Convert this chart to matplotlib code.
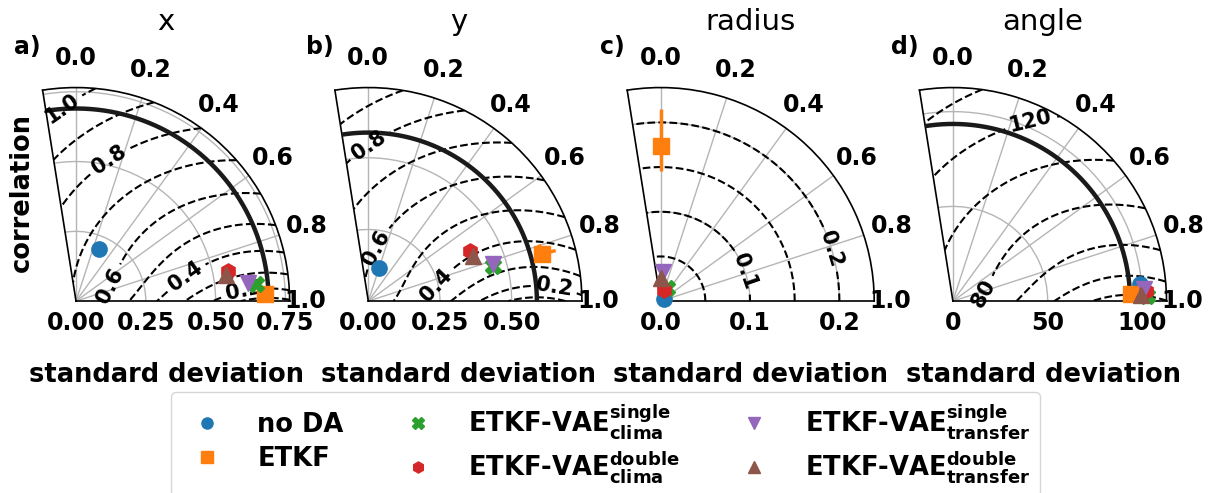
import numpy as np
import matplotlib.pyplot as plt
from matplotlib.lines import Line2D

plt.rcParams['font.family'] = ['DejaVu Sans']
plt.rcParams['font.weight'] = 'bold'

# panels
titles = ['x', 'y', 'radius', 'angle']
letters = ['a)', 'b)', 'c)', 'd)']

# experiments
names = ['no DA', 'ETKF',
         r'ETKF-VAE$^{\mathrm{single}}_{\mathrm{clima}}$',
         r'ETKF-VAE$^{\mathrm{double}}_{\mathrm{clima}}$',
         r'ETKF-VAE$^{\mathrm{single}}_{\mathrm{transfer}}$',
         r'ETKF-VAE$^{\mathrm{double}}_{\mathrm{transfer}}$']
markers = ['o', 's', 'X', 'h', 'v', '^']
colors = ['tab:blue', 'tab:orange', 'tab:green', 'tab:red', 'tab:purple', 'tab:brown']

# axes settings
corr_ticks = [0.0, 0.2, 0.4, 0.6, 0.8, 1.0]
corr_min = -0.1
r_ticks = [[0, 0.25, 0.5, 0.75], [0, 0.25, 0.5], [0, 0.1, 0.2], [0, 50, 100]]
ref_std = [0.69, 0.588, 0.0, 93.5]
std_max = [0.765, 0.745, 0.239, 112.7]
rms_levels = [[0.1, 0.2, 0.3, 0.4, 0.5, 0.6, 0.7, 0.8, 0.9, 1.0],
              [0.1, 0.2, 0.3, 0.4, 0.5, 0.6, 0.7, 0.8, 0.9],
              [0.05, 0.1, 0.15, 0.2],
              [20, 40, 60, 80, 100, 120, 140]]
rms_labelled = [[0.2, 0.4, 0.6, 0.8, 1.0], [0.2, 0.4, 0.6, 0.8], [0.1, 0.2], [80, 120]]
rms_fmt = ['%.1f', '%.1f', '%.1f', '%.0f']
# where the rms labels sit: (correlation, std)
rms_label_corr = [[0.954, 0.857, 0.681, 0.141, -0.043],
                  [0.956, 0.860, 0.070, 0.0],
                  [0.786, 0.811],
                  [0.863, 0.258]]
rms_label_std = [[0.600, 0.401, 0.127, 0.522, 0.690],
                 [0.649, 0.242, 0.191, 0.546],
                 [0.102, 0.205],
                 [17.4, 103.9]]

# std / correlation of each experiment, one row per panel
std = [[0.203, 0.679, 0.648, 0.554, 0.619, 0.547],
       [0.122, 0.627, 0.452, 0.394, 0.455, 0.398],
       [0.004, 0.174, 0.016, 0.013, 0.033, 0.026],
       [99.3, 93.9, 102.4, 102.0, 101.1, 99.2]]
corr = [[0.27, 0.976, 0.941, 0.876, 0.932, 0.889],
        [0.19, 0.832, 0.826, 0.707, 0.818, 0.741],
        [0.60, 0.00, 0.30, 0.16, 0.05, 0.02],
        [0.941, 0.976, 0.983, 0.967, 0.961, 0.978]]
# spread over runs (lower / upper)
std_lo = [[0, 0, 0, 0.008, 0, 0], [0, 0, 0, 0.008, 0, 0],
          [0, 0.028, 0, 0, 0, 0], [0, 0, 0, 0, 0, 0]]
std_hi = [[0, 0, 0, 0.008, 0, 0], [0, 0.05, 0, 0.008, 0, 0],
          [0, 0.041, 0, 0, 0, 0], [0, 0, 0, 0, 0, 0]]
corr_lo = [[0, 0, 0, 0.015, 0, 0], [0, 0.036, 0, 0.015, 0, 0],
           [0, 0, 0, 0, 0, 0], [0, 0, 0, 0, 0, 0]]
corr_hi = [[0, 0, 0, 0.015, 0, 0], [0, 0, 0, 0.015, 0, 0],
           [0, 0, 0, 0, 0, 0], [0, 0, 0, 0, 0, 0]]


def to_theta(c):
    return (1 - np.asarray(c, dtype=float)) * np.pi / 2


W, H = 1226, 493
fig = plt.figure(figsize=(W / 100, H / 100), dpi=100)

tmax = float(to_theta(corr_min))
side = 247.0
for i in range(4):
    left = 42.6 + 292.3 * i
    ax = fig.add_axes([left / W, 1 - 316.75 / H, side / W, side / H], projection='polar')
    ax.set_thetamin(0)
    ax.set_thetamax(np.degrees(tmax))
    ax.set_rlim(0, std_max[i])
    ax.set_thetagrids(np.degrees(to_theta(corr_ticks)), [''] * len(corr_ticks))
    ax.set_yticks(r_ticks[i])
    ax.tick_params(labelsize=17)
    ax.grid(color='#b5b5b5', lw=1)
    for sp in ax.spines.values():
        sp.set_linewidth(1.2)

    # correlation labels outside the arc
    for c in corr_ticks:
        f = 1.075 if c == 1.0 else 1.138
        ax.text(to_theta(c), f * std_max[i], '%.1f' % c, ha='center', va='center',
                fontsize=17)

    # reference std arc
    t = np.linspace(0, tmax, 200)
    ax.plot(t, np.full_like(t, ref_std[i]), color='#1a1a1a', lw=3.2, zorder=3)

    # centred rms contours
    tt, rr = np.meshgrid(np.linspace(0, tmax, 300), np.linspace(0, std_max[i], 300))
    cc = 1 - tt / (np.pi / 2)
    rms = np.sqrt(np.maximum(ref_std[i] ** 2 + rr ** 2 - 2 * ref_std[i] * rr * cc, 0))
    plain = [l for l in rms_levels[i] if l not in rms_labelled[i]]
    ax.contour(tt, rr, rms, levels=plain, colors='k', linestyles='--', linewidths=1.5)
    cs = ax.contour(tt, rr, rms, levels=rms_labelled[i], colors='k',
                    linestyles='--', linewidths=1.5)
    spots = list(zip(to_theta(rms_label_corr[i]), rms_label_std[i]))
    ax.clabel(cs, fmt=rms_fmt[i], fontsize=15, inline=True, manual=spots)

    for j in range(len(names)):
        th = to_theta(corr[i][j])
        ax.errorbar([th], [std[i][j]],
                    xerr=[[corr_hi[i][j] * np.pi / 2], [corr_lo[i][j] * np.pi / 2]],
                    yerr=[[std_lo[i][j]], [std_hi[i][j]]],
                    fmt=markers[j], color=colors[j], ms=11, elinewidth=2.5,
                    capsize=0, zorder=5, clip_on=False)

    cx = (left + side / 2) / W
    fig.text(cx, 1 - 22 / H, titles[i], ha='center', va='center', fontsize=21,
             fontweight='normal')
    fig.text((left - 15) / W, 1 - 47 / H, letters[i], ha='center', va='center', fontsize=17)
    fig.text(cx, 1 - 375 / H, 'standard deviation', ha='center', va='center', fontsize=18.5)

fig.text(22 / W, 1 - 192 / H, 'correlation', rotation=90, ha='center', va='center',
         fontsize=18.5)

handles = [Line2D([], [], ls='none', marker=markers[j], color=colors[j], ms=8)
           for j in range(len(names))]
fig.legend(handles, names, loc='upper center', bbox_to_anchor=(0.494, 1 - 392 / H),
           ncol=3, fontsize=18.5, handletextpad=0.95, columnspacing=1.9,
           labelspacing=0.3, borderaxespad=0)

fig.savefig('out.png', dpi=100)
